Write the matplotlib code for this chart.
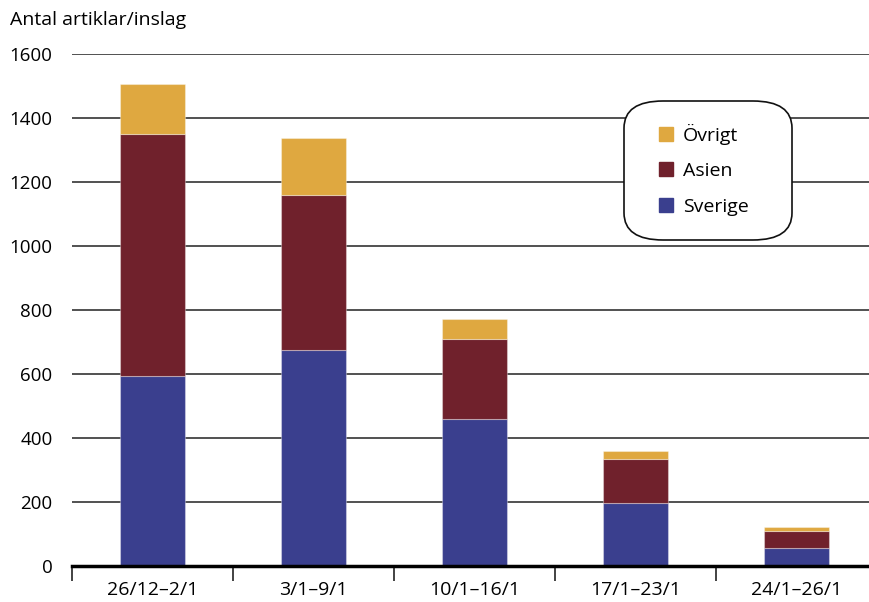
import matplotlib.pyplot as plt
from matplotlib.patches import FancyBboxPatch, Patch

perioder = ["26/12–2/1", "3/1–9/1", "10/1–16/1", "17/1–23/1", "24/1–26/1"]
sverige = [595, 675, 460, 198, 55]
asien = [755, 485, 250, 136, 55]
ovrigt = [155, 177, 63, 25, 12]

farg_sverige = "#3a3f8e"
farg_asien = "#70212c"
farg_ovrigt = "#dfa840"

plt.rcParams["font.family"] = ["Open Sans", "DejaVu Sans"]

fig = plt.figure(figsize=(8.69, 6.02), dpi=100)
ax = fig.add_axes([72 / 869, 1 - 566 / 602, 805 / 869, 512 / 602])

x = list(range(len(perioder)))
bredd = 0.4
kant = dict(edgecolor=(1, 1, 1, 0.35), linewidth=0.8)
ax.bar(x, sverige, width=bredd, color=farg_sverige, zorder=3, **kant)
botten = sverige
ax.bar(x, asien, width=bredd, bottom=botten, color=farg_asien, zorder=3, **kant)
botten = [s + a for s, a in zip(sverige, asien)]
ax.bar(x, ovrigt, width=bredd, bottom=botten, color=farg_ovrigt, zorder=3, **kant)

ax.set_xlim(-0.5, len(perioder) - 0.5)
ax.set_ylim(0, 1600)
ax.set_yticks(range(0, 1601, 200))
ax.tick_params(axis="y", length=0, labelsize=13.5, pad=14)
ax.grid(axis="y", color="#222222", linewidth=1.1, zorder=1)

ax.set_xticks([i - 0.5 for i in x], minor=False)
ax.set_xticklabels([])
ax.set_xticks(x, minor=True)
ax.set_xticklabels(perioder, minor=True, fontsize=14)
ax.tick_params(axis="x", which="major", direction="out", length=11, width=1.2, color="#222222")
ax.tick_params(axis="x", which="minor", length=0, pad=11)

for s in ["top", "right", "left"]:
    ax.spines[s].set_visible(False)
ax.spines["bottom"].set_linewidth(2.5)
ax.spines["bottom"].set_zorder(4)

fig.text(10 / 869, 1 - 20 / 602, "Antal artiklar/inslag", fontsize=14, va="center", ha="left")

# legend med rundad ram
ram = FancyBboxPatch((624 / 869, 1 - 240 / 602), 168 / 869, 139 / 602,
                     boxstyle="round,pad=0,rounding_size=0.045",
                     transform=fig.transFigure, facecolor="white",
                     edgecolor="#111111", linewidth=1.2, zorder=5)
fig.patches.append(ram)
handtag = [Patch(color=farg_ovrigt, label="Övrigt"),
           Patch(color=farg_asien, label="Asien"),
           Patch(color=farg_sverige, label="Sverige")]
leg = fig.legend(handles=handtag, loc="upper left",
                 bbox_to_anchor=(641 / 869, 1 - 106 / 602), frameon=False,
                 fontsize=14, handlelength=0.75, handleheight=0.75,
                 handletextpad=0.5, labelspacing=0.9)
leg.set_zorder(6)

fig.savefig("out.png", dpi=100)
